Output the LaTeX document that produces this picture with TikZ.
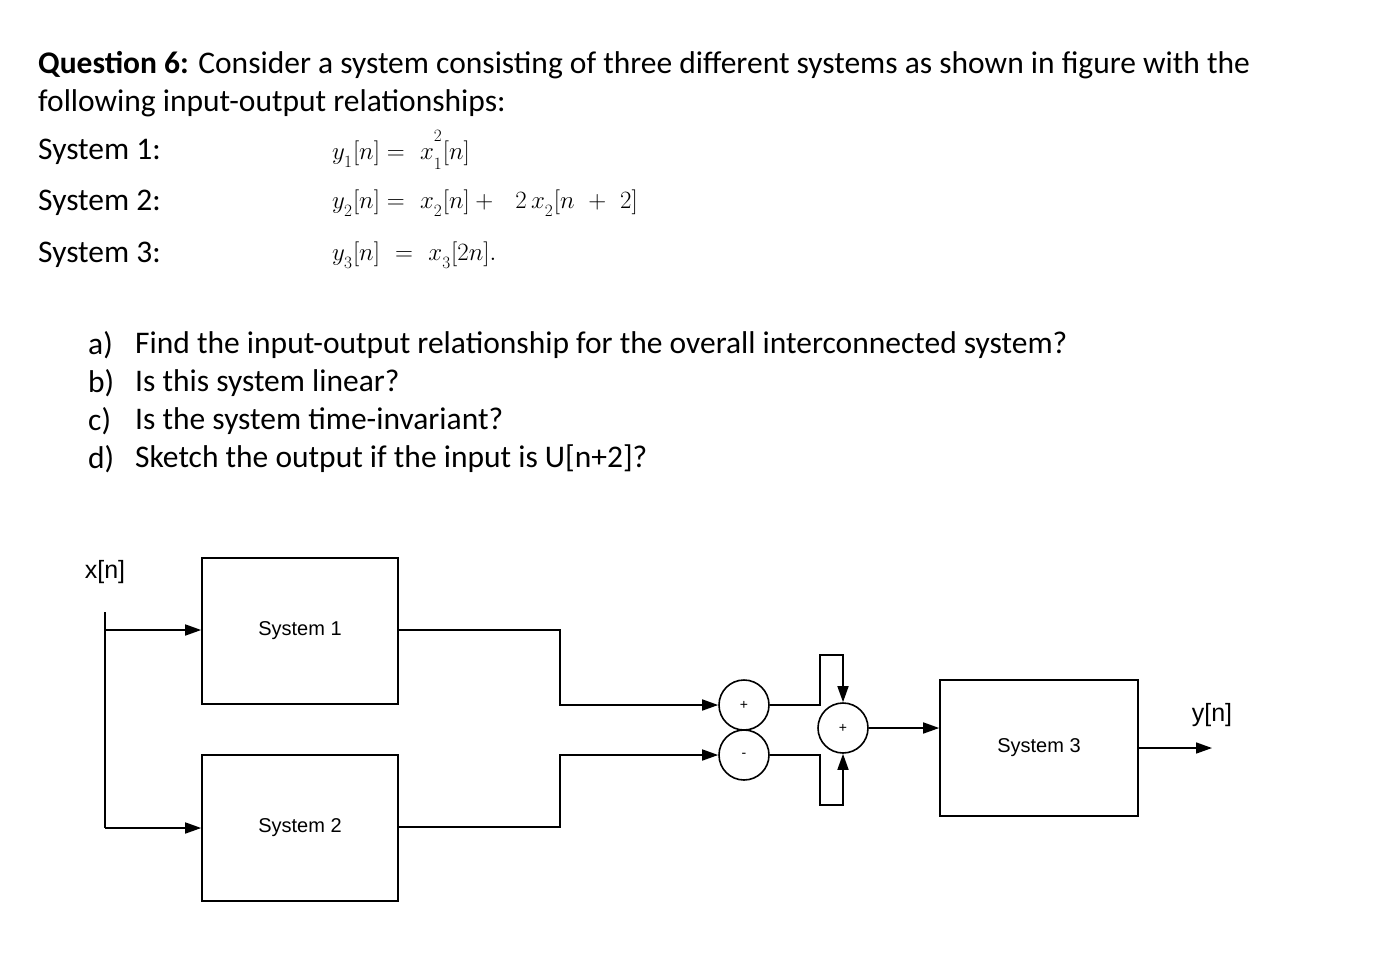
\documentclass[tikz,border=0pt]{standalone}
\usepackage{fontspec}
\setmainfont{Carlito}
\newfontfamily\diag{Liberation Sans}
\usetikzlibrary{arrows.meta}
\begin{document}
\begin{tikzpicture}[x=1pt,y=-1pt,
  txt/.style={anchor=west,inner sep=0pt,font=\fontsize{31.5}{34}\selectfont},
  eq/.style={anchor=west,inner sep=0pt,font=\fontsize{37}{40}\selectfont},
  blk/.style={draw,line width=1.6pt,minimum width=196pt,minimum height=146pt,font=\diag\fontsize{20}{22}\selectfont},
  sum/.style={draw,circle,line width=1.6pt,minimum size=50pt,inner sep=0pt,font=\diag\fontsize{14}{14}\selectfont},
  wire/.style={line width=1.6pt},
  arr/.style={wire,-{Triangle[length=16pt,width=11pt]}},
  lbl/.style={inner sep=0pt,font=\diag\fontsize{25}{28}\selectfont}]
\useasboundingbox (0,0) rectangle (1378,972);
\node[txt] (q) at (38,65) {\textbf{Question 6:} Consider a system consisting of three different systems as shown in figure with the};
\node[txt] (q2) at (38,103) {following input-output relationships:};
\node[txt] (s1) at (38,152) {System 1:};
\node[txt] (s2) at (38,203) {System 2:};
\node[txt] (s3) at (38,255) {System 3:};
\node[eq] (e1) at (332,150) {$y_{_1}[n] =\ x^{^2}_{_1}[n]$};
\node[eq] (e2) at (332,203) {$y_{_2}[n] =\ x_{_2}[n] +\ \ 2\,x_{_2}[n\ +\ 2]$};
\node[eq] (e3) at (332,255) {$y_{_3}[n]\ =\ x_{_3}[2n].$};
\node[txt] (a) at (88,345) {a)};
\node[txt] (at) at (135,345) {Find the input-output relationship for the overall interconnected system?};
\node[txt] (b) at (88,383) {b)};
\node[txt] (bt) at (135,383) {Is this system linear?};
\node[txt] (c) at (88,421) {c)};
\node[txt] (ct) at (135,421) {Is the system time-invariant?};
\node[txt] (d) at (88,459) {d)};
\node[txt] (dt) at (135,459) {Sketch the output if the input is U[n+2]?};

\node[lbl] (x) at (105,572) {x[n]};
\node[blk] (B1) at (300,631) {System 1};
\node[blk] (B2) at (300,828) {System 2};
\node[blk,minimum width=198pt,minimum height=136pt] (B3) at (1039,748) {System 3};
\node[sum] (C1) at (744,705) {+};
\node[sum] (C2) at (744,755) {-};
\node[sum] (C3) at (843,728) {+};
\node[lbl] (y) at (1212,715) {y[n]};
\coordinate (top) at (105,612);
\coordinate (out) at (1212,748);

\draw[wire] (top) -- (105,828);
\draw[arr] (105,630) -- (B1.west |- 0,630);
\draw[arr] (105,828) -- (B2.west |- 0,828);
\draw[arr] (B1.east |- 0,630) -- (560,630) -- (560,705) -- (C1.west);
\draw[arr] (B2.east |- 0,827) -- (560,827) -- (560,755) -- (C2.west);
\draw[arr] (C1.east) -- (820,705) -- (820,655) -- (843,655) -- (C3.north);
\draw[arr] (C2.east) -- (820,755) -- (820,805) -- (843,805) -- (C3.south);
\draw[arr] (C3.east) -- (B3.west |- C3);
\draw[arr] (B3.east |- out) -- (out);
\end{tikzpicture}
\end{document}
